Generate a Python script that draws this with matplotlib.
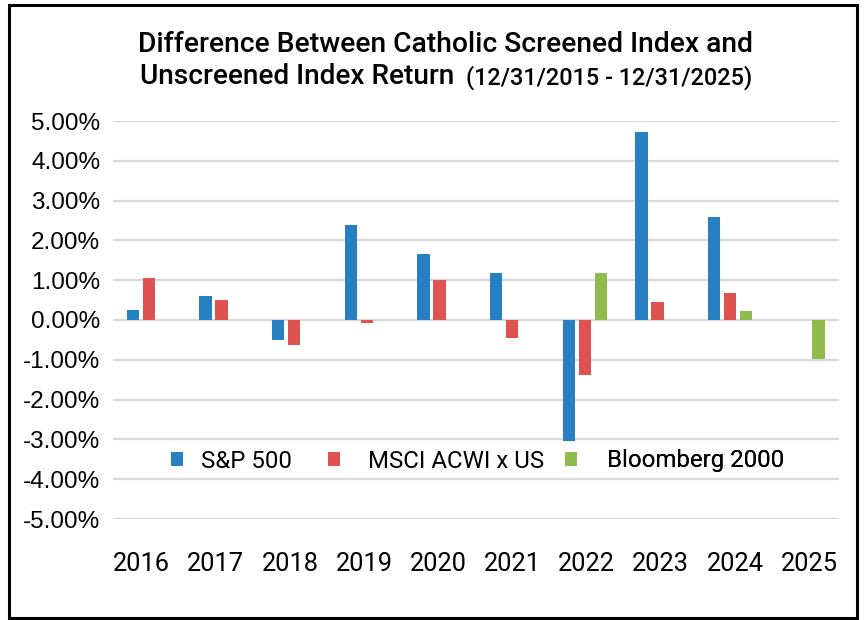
import matplotlib
matplotlib.use("Agg")
from matplotlib import pyplot as plt
from matplotlib.patches import Rectangle
from matplotlib.ticker import FuncFormatter
import numpy as np

# datos (en %)
years = ["2016", "2017", "2018", "2019", "2020", "2021", "2022", "2023", "2024", "2025"]
sp500 = [0.26, 0.61, -0.50, 2.39, 1.66, 1.17, -3.04, 4.72, 2.59, 0.0]
msci = [1.06, 0.51, -0.64, -0.07, 1.00, -0.44, -1.38, 0.45, 0.67, 0.0]
bloomberg = [0.0, 0.0, 0.0, 0.0, 0.0, 0.0, 1.18, 0.0, 0.23, -0.98]
series_names = ["S&P 500", "MSCI ACWI x US", "Bloomberg 2000"]
colors = ["#2780c2", "#de5252", "#8fbc4d"]

fig = plt.figure(figsize=(8.64, 6.2), dpi=100)
ax = fig.add_axes([112.7/864, 1-519/620, 726.3/864, 398/620])

x = np.arange(len(years))
w = 0.17
off = 0.22
handles = []
for i, (vals, name, c) in enumerate(zip([sp500, msci, bloomberg], series_names, colors)):
    b = ax.bar(x + (i-1)*off, vals, width=w, color=c, linewidth=0, label=name, zorder=3)
    handles.append(b)

ax.set_xlim(-0.5, len(years)-0.5)
ax.set_ylim(-5.0, 5.0)
ax.set_yticks(np.arange(-5, 6, 1))
ax.yaxis.set_major_formatter(FuncFormatter(lambda v, p: "%.2f%%" % v))
# las etiquetas del eje x estan un poco mas separadas que los grupos
ax.set_xticks(x * 1.0215 - 0.103)
ax.set_xticklabels(years, fontsize=18.3, family="Roboto")
for t in ax.get_yticklabels():
    t.set_fontsize(17.5)
    t.set_family("Liberation Sans")
ax.tick_params(axis="both", length=0)
ax.tick_params(axis="x", pad=24)
ax.tick_params(axis="y", pad=9)
ax.grid(axis="y", color="#d9d9d9", linewidth=1.6, zorder=0)
ax.grid(axis="x", visible=False)
for s in ax.spines.values():
    s.set_visible(False)

# leyenda: tres entradas separadas como en el original
leg_x = [171, 328, 565]
leg_pad = [0.73, 1.17, 1.25]
for h, name, lx, pad in zip(handles, series_names, leg_x, leg_pad):
    lg = ax.legend([h], [name], loc="center left", bbox_to_anchor=(lx/864, 1-461/620),
                   bbox_transform=fig.transFigure, frameon=False, borderpad=0, borderaxespad=0,
                   handlelength=0.5, handleheight=0.55, handletextpad=pad,
                   prop={"family": "Roboto", "size": 17.3})
    ax.add_artist(lg)

# titulo
fig.text(446/864, 1-45/620, "Difference Between Catholic Screened Index and",
         ha="center", va="center", fontsize=20.3, family="Roboto", weight="medium")
fig.text(140/864, 1-77/620, "Unscreened Index Return",
         ha="left", va="center", fontsize=20.2, family="Roboto", weight="medium")
fig.text(752/864, 1-78/620, "(12/31/2015 - 12/31/2025)",
         ha="right", va="center", fontsize=16.9, family="Roboto", weight="medium")

# marco negro
fig.patches.append(Rectangle((8.5/864, 1-618/620), 848.5/864, 613/620, transform=fig.transFigure,
                             fill=False, edgecolor="black", linewidth=2.2))

plt.savefig("out.png", dpi=100)
